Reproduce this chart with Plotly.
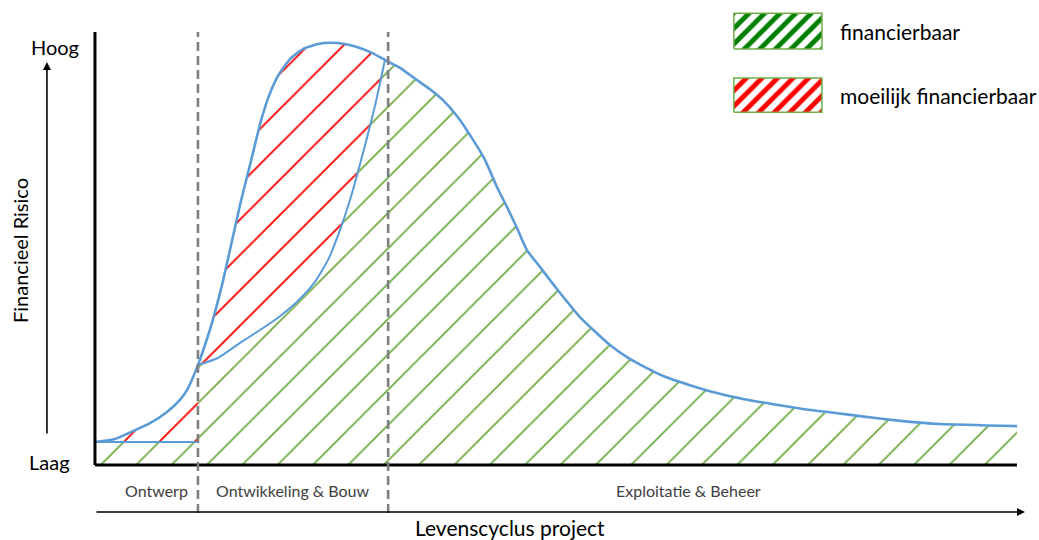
import plotly.graph_objects as go

# ---- Financial risk across the project life cycle (0-100 % of lifecycle, risk 0 = Laag, 100 = Hoog)
phase_names = ["Ontwerp", "Ontwikkeling & Bouw", "Exploitatie & Beheer"]
phase_ends = [11.17, 31.8, 100.0]          # end of each phase on the lifecycle axis
phase_label_x = [6.7, 21.5, 64.4]          # where each phase name is centred

# total financial risk, design phase
design_x = [0.0, 2.17, 4.12, 5.97, 7.81, 9.22, 9.98, 11.17]
design_risk = [5.5, 6.2, 8.1, 10.0, 12.7, 15.6, 17.9, 23.9]

# total financial risk, development & construction phase
build_x = [11.17, 11.93, 12.69, 13.88, 14.86, 15.84, 16.92, 18.00, 18.87, 19.85,
           21.15, 22.56, 24.19, 25.49, 27.11, 28.42, 30.04, 31.45]
build_risk = [23.9, 28.7, 34.0, 44.0, 53.6, 63.2, 72.7, 82.3, 88.3, 93.1,
              97.1, 99.5, 100.7, 101.0, 100.7, 100.0, 98.6, 96.9]

# total financial risk, operation & maintenance phase
exploit_x = [31.45, 33.08, 34.92, 36.33, 37.74, 39.26, 40.89, 42.30, 43.60, 44.69,
             45.77, 46.85, 48.26, 50.11, 52.60, 55.86, 57.70, 59.65, 61.82, 64.53,
             67.46, 70.28, 73.43, 76.79, 80.48, 82.97, 87.64, 91.65, 100.0]
exploit_risk = [96.9, 95.0, 92.1, 89.9, 87.3, 83.5, 78.2, 73.0, 66.5, 61.7,
                56.7, 51.4, 47.4, 42.1, 35.4, 28.7, 25.8, 23.4, 21.1, 19.1,
                17.2, 15.8, 14.6, 13.4, 12.4, 11.7, 10.5, 9.8, 9.3]

# financeable part of the risk
design_financeable = 5.5
build_fin_x = [11.17, 13.34, 15.73, 17.90, 20.07, 22.23, 23.86, 25.27, 26.57,
               27.66, 28.52, 29.39, 30.37, 31.45]
build_fin_risk = [23.9, 25.6, 29.2, 32.3, 35.6, 39.7, 43.8, 49.0, 56.2,
                  63.4, 70.1, 77.3, 85.9, 96.9]

GREEN = "#70AD47"
DARK_GREEN = "#008000"
RED = "#FF0000"
BLUE = "#5B9BD5"
GREY = "#7F7F7F"
FONT = "Lato"

fig = go.Figure()

def hatch(color, size=25, solidity=0.075):
    return dict(shape="/", fgcolor=color, fgopacity=1, bgcolor="white",
                size=size, solidity=solidity)

# financeable area (green hatch)
green_x = [0.0, 100.0] + exploit_x[::-1] + build_fin_x[::-1] + [design_x[-1], 0.0]
green_y = [0.0, 0.0] + exploit_risk[::-1] + build_fin_risk[::-1] + [design_financeable] * 2
fig.add_trace(go.Scatter(x=green_x, y=green_y, mode="lines", fill="toself",
                         fillcolor="white", fillpattern=hatch(GREEN),
                         line=dict(width=0), hoverinfo="skip", showlegend=False))

# hard-to-finance area, design phase (red hatch)
fig.add_trace(go.Scatter(x=design_x + [design_x[-1], 0.0],
                         y=design_risk + [design_financeable] * 2,
                         mode="lines", fill="toself", fillcolor="white",
                         fillpattern=hatch(RED), line=dict(width=0),
                         hoverinfo="skip", showlegend=False))

# hard-to-finance area, construction phase (red hatch)
fig.add_trace(go.Scatter(x=build_x + build_fin_x[::-1],
                         y=build_risk + build_fin_risk[::-1],
                         mode="lines", fill="toself", fillcolor="white",
                         fillpattern=hatch(RED), line=dict(width=0),
                         hoverinfo="skip", showlegend=False))

# boundary lines between financeable and hard-to-finance risk
fig.add_trace(go.Scatter(x=[0.0, design_x[-1]], y=[design_financeable] * 2, mode="lines",
                         line=dict(color=BLUE, width=2), hoverinfo="skip", showlegend=False))
fig.add_trace(go.Scatter(x=build_fin_x, y=build_fin_risk, mode="lines",
                         line=dict(color=BLUE, width=2, shape="spline", smoothing=0.5),
                         hoverinfo="skip", showlegend=False))

# total risk curve
total_x = design_x + build_x[1:] + exploit_x[1:]
total_risk = design_risk + build_risk[1:] + exploit_risk[1:]
fig.add_trace(go.Scatter(x=total_x, y=total_risk, mode="lines",
                         line=dict(color=BLUE, width=2.6, shape="spline", smoothing=0.5),
                         hoverinfo="skip", showlegend=False))

# legend swatches
legend_items = [("financierbaar", DARK_GREEN, 99.5, 108.1),
                ("moeilijk financierbaar", RED, 84.4, 92.6)]
for label, color, y0, y1 in legend_items:
    fig.add_trace(go.Scatter(x=[69.3, 78.85, 78.85, 69.3, 69.3], y=[y0, y0, y1, y1, y0],
                             mode="lines", fill="toself", fillcolor="white",
                             fillpattern=dict(shape="/", fgcolor=color, fgopacity=1,
                                              bgcolor="white", size=11, solidity=0.45),
                             line=dict(color=GREEN, width=1.5),
                             hoverinfo="skip", showlegend=False))
    fig.add_annotation(x=80.6, y=(y0 + y1) / 2, text=label, showarrow=False,
                       xanchor="left", yanchor="middle",
                       font=dict(family=FONT, size=21, color="black"))

shapes = [
    # axes
    dict(type="line", x0=0, x1=0, y0=0, y1=103.6, line=dict(color="black", width=3)),
    dict(type="line", x0=0, x1=100, y0=0, y1=0, line=dict(color="black", width=3)),
]
# phase separators
for xe in phase_ends[:-1]:
    shapes.append(dict(type="line", x0=xe, x1=xe, y0=-11.5, y1=103.6,
                       line=dict(color=GREY, width=2.6, dash="9px,5px")))
fig.update_layout(shapes=shapes)

# arrows
fig.add_annotation(x=-5.21, y=96.4, ax=-5.21, ay=7.2, xref="x", yref="y",
                   axref="x", ayref="y", text="", showarrow=True,
                   arrowhead=2, arrowsize=1, arrowwidth=1.6, arrowcolor="black")
fig.add_annotation(x=100.87, y=-11.24, ax=0, ay=-11.24, xref="x", yref="y",
                   axref="x", ayref="y", text="", showarrow=True,
                   arrowhead=2, arrowsize=1, arrowwidth=1.6, arrowcolor="black")

# phase labels
for name, lx in zip(phase_names, phase_label_x):
    fig.add_annotation(x=lx, y=-6.2, text=name, showarrow=False,
                       font=dict(family=FONT, size=16, color="#404040"))

# axis texts
fig.add_annotation(x=-4.34, y=100.0, text="Hoog", showarrow=False,
                   font=dict(family=FONT, size=20, color="black"))
fig.add_annotation(x=-4.9, y=0.7, text="Laag", showarrow=False,
                   font=dict(family=FONT, size=20, color="black"))
fig.add_annotation(x=-8.15, y=51.4, text="Financieel Risico", showarrow=False, textangle=-90,
                   font=dict(family=FONT, size=20, color="black"))
fig.add_annotation(x=45.0, y=-14.9, text="Levenscyclus project", showarrow=False,
                   font=dict(family=FONT, size=21, color="black"))

fig.update_layout(
    width=1039, height=540,
    margin=dict(l=0, r=0, t=0, b=0),
    paper_bgcolor="white", plot_bgcolor="white",
    xaxis=dict(range=[-10.30, 102.39], visible=False, fixedrange=True),
    yaxis=dict(range=[-17.94, 111.24], visible=False, fixedrange=True),
    showlegend=False,
)

fig.write_html("out.html")
